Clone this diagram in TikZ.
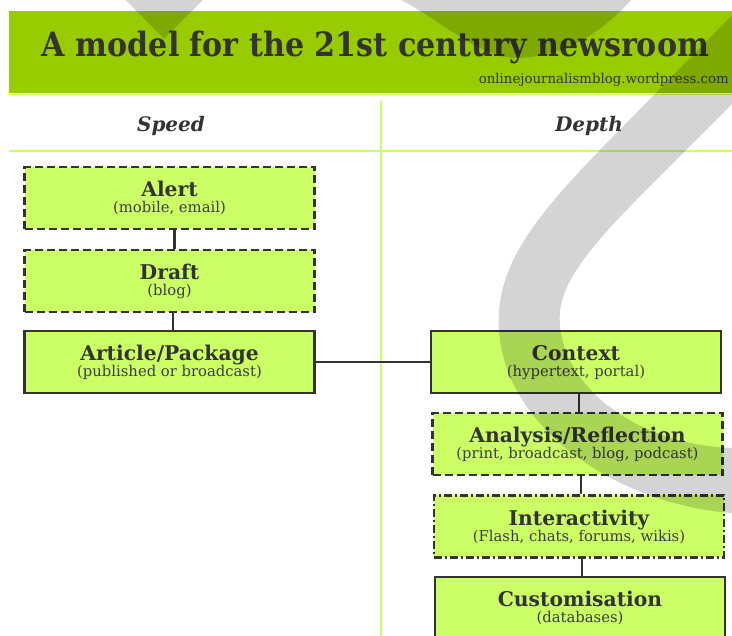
\documentclass[tikz,border=0pt]{standalone}
\usepackage{graphicx}
\usepackage{fontspec}
\setmainfont{DejaVu Serif}
\usetikzlibrary{calc}
\definecolor{banner}{HTML}{99CC00}
\definecolor{boxfill}{HTML}{CCFF66}
\definecolor{rulegreen}{HTML}{CCFF66}
\definecolor{ink}{HTML}{333333}
\definecolor{subink}{HTML}{3C3C3C}
\newcommand\mkbox[6]{%
  \node[#2] (#1) at (#3,#4) {};
  \node[btitle] (#1-t) at ($(#1.center)+(0,-1)$) {#5};
  \node[bsub] (#1-s) at ($(#1.center)+(0,15)$) {#6};
}
\begin{document}
\begin{tikzpicture}[x=1pt,y=-1pt,
  boxbase/.style={rectangle, draw=ink, line width=2.2pt, fill=boxfill,
    minimum width=290pt, minimum height=62pt, inner sep=0pt},
  solidbox/.style={boxbase},
  dashbox/.style={boxbase, dash pattern=on 8pt off 4pt},
  dotbox/.style={boxbase, dash pattern=on 8pt off 3pt on 2pt off 3pt},
  btitle/.style={font=\bfseries\fontsize{20.3}{23}\selectfont, text=ink, inner sep=0pt, anchor=base},
  bsub/.style={font=\fontsize{14.8}{17}\selectfont, text=subink, inner sep=0pt, anchor=base},
  link/.style={draw=ink, line width=2.2pt},
  rulestyle/.style={draw=rulegreen, line width=1.2pt},
  wm/.style={fill=black, fill opacity=0.17, draw=none}
]
\useasboundingbox (0,0) rectangle (732,636);
\begin{scope}
\clip (0,0) rectangle (732,636);
% banner
\fill[banner] (9,11) rectangle (740,93);
\node[anchor=base, text=ink, inner sep=0pt] (title) at (375.5,57)
  {\resizebox{667pt}{\height}{\bfseries\fontsize{33.5}{38}\selectfont A model for the 21st century newsroom}};
\node[anchor=base east, text=ink, inner sep=0pt] (url) at (729,84)
  {\resizebox{250pt}{\height}{\fontsize{13.5}{15}\selectfont onlinejournalismblog.wordpress.com}};
% rules
\draw[rulestyle] (9,94.5) -- (740,94.5);
\draw[rulestyle] (9,151) -- (740,151);
\draw[rulestyle] (381,101) -- (381,640);
% column heads
\node[anchor=base, text=ink, inner sep=0pt, font=\bfseries\itshape\fontsize{20}{24}\selectfont] (speed) at (171,132) {Speed};
\node[anchor=base, text=ink, inner sep=0pt, font=\bfseries\itshape\fontsize{20}{24}\selectfont] (depth) at (589,132) {Depth};
% boxes
\mkbox{alert}{dashbox}{169.5}{198}{Alert}{(mobile, email)}
\mkbox{draft}{dashbox}{169.5}{281}{Draft}{(blog)}
\mkbox{article}{solidbox}{169.5}{362}{Article/Package}{(published or broadcast)}
\mkbox{context}{solidbox}{576}{362}{Context}{(hypertext, portal)}
\mkbox{analysis}{dashbox}{577.5}{444}{Analysis/Reflection}{(print, broadcast, blog, podcast)}
\mkbox{inter}{dotbox}{579}{526.5}{Interactivity}{(Flash, chats, forums, wikis)}
\mkbox{custom}{solidbox}{580}{608}{Customisation}{(databases)}
% connectors
\draw[link] ([xshift=5pt]alert.south) -- ([xshift=5pt]alert.south |- draft.north);
\draw[link] ([xshift=3.5pt]draft.south) -- ([xshift=3.5pt]draft.south |- article.north);
\draw[link] (article.east) -- (context.west);
\draw[link] ([xshift=3pt]context.south) -- ([xshift=3pt]context.south |- analysis.north);
\draw[link] ([xshift=3.5pt]analysis.south) -- ([xshift=3.5pt]analysis.south |- inter.north);
\draw[link] ([xshift=3pt]inter.south) -- ([xshift=3pt]inter.south |- custom.north);
% watermark
\fill[wm] (121,-5) -- (208,-5) -- (164,39) -- cycle;
\fill[wm] (395,-5) -- (401,0) .. controls (440,20) and (480,58) .. (515,58)
  .. controls (560,58) and (600,35) .. (631,0) -- (637,-5) -- cycle;
\fill[wm] (745,2) -- (600,150) .. controls (530,222) and (495,270) .. (499,330)
  .. controls (505,430) and (620,505) .. (732,513) -- (745,513) -- (745,448) -- (732,448)
  .. controls (640,445) and (565,390) .. (560,325)
  .. controls (555,280) and (600,236) .. (676,160) -- (745,91) -- cycle;
\end{scope}
\end{tikzpicture}
\end{document}
